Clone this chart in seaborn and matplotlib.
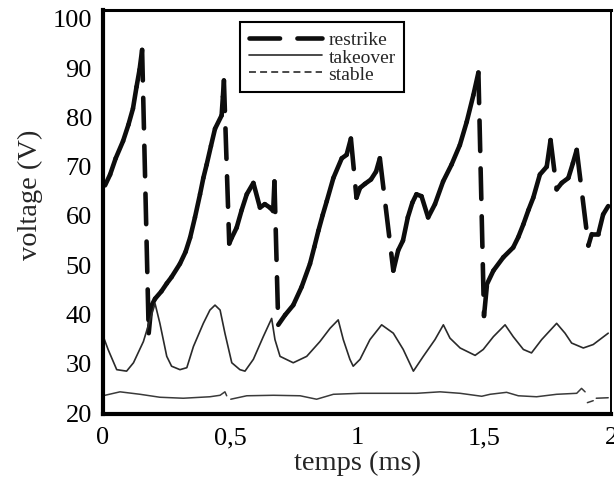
import numpy as np
import pandas as pd
import matplotlib
matplotlib.use("Agg")
import matplotlib.pyplot as plt
import seaborn as sns
from matplotlib.lines import Line2D

# ---------------- data ----------------
restrike_t = [0.008, 0.028, 0.05, 0.079, 0.10, 0.118, 0.132, 0.144, 0.154,
              0.18,
              0.19, 0.205, 0.23, 0.251, 0.27, 0.303, 0.325, 0.343, 0.362, 0.382,
              0.395, 0.408, 0.425, 0.441, 0.467, 0.472, 0.476,
              0.497,
              0.507, 0.526, 0.546, 0.566, 0.592, 0.618, 0.637, 0.657, 0.67, 0.675,
              0.69,
              0.717, 0.749, 0.782, 0.815, 0.832, 0.848, 0.865, 0.881, 0.907, 0.94,
              0.959, 0.976,
              0.998,
              1.012, 1.031, 1.055, 1.075, 1.09,
              1.143,
              1.162, 1.181, 1.2, 1.218, 1.234, 1.254, 1.28, 1.307, 1.339, 1.372,
              1.405, 1.432, 1.458, 1.478,
              1.5,
              1.512, 1.537, 1.576, 1.615, 1.635, 1.655, 1.675, 1.694, 1.72, 1.747,
              1.762,
              1.786,
              1.806, 1.832, 1.85, 1.865,
              1.911,
              1.924, 1.95, 1.969, 1.989]
restrike_v = [66.0, 68.2, 71.5, 75.0, 78.3, 81.6, 86.0, 89.5, 93.5,
              36.0,
              41.5, 43.0, 44.5, 46.1, 47.4, 50.1, 52.5, 55.4, 59.5, 64.2,
              67.5, 70.2, 74.0, 77.5, 80.2, 84.0, 87.3,
              54.2,
              55.4, 57.4, 61.0, 64.2, 66.5, 61.5, 62.2, 61.5, 60.8, 66.8,
              37.7,
              39.7, 41.7, 45.4, 50.1, 53.5, 56.8, 60.0, 62.8, 67.5, 71.5,
              72.2, 75.5,
              63.5,
              65.5, 66.3, 67.2, 68.8, 71.5,
              48.7,
              52.8, 54.8, 59.5, 62.5, 64.2, 63.8, 59.5, 62.2, 66.8, 70.2,
              74.2, 78.9, 84.3, 88.9,
              39.5,
              46.0, 48.7, 51.4, 53.4, 55.5, 58.1, 61.0, 63.5, 68.2, 69.8,
              75.2,
              65.2,
              66.5, 67.5, 70.5, 73.2,
              53.8,
              56.1, 56.1, 60.1, 61.8]

takeover_t = [0.0, 0.02, 0.054, 0.093, 0.12, 0.159, 0.185, 0.205, 0.224, 0.251,
              0.27, 0.303, 0.33, 0.356, 0.395, 0.421, 0.441, 0.461, 0.48, 0.507,
              0.539, 0.559, 0.592, 0.631, 0.664, 0.677, 0.697, 0.749, 0.802, 0.854,
              0.894, 0.926, 0.946, 0.972, 0.985, 1.012, 1.051, 1.097, 1.143, 1.182,
              1.222, 1.261, 1.307, 1.34, 1.366, 1.406, 1.465, 1.497, 1.537, 1.583,
              1.615, 1.655, 1.687, 1.727, 1.786, 1.819, 1.845, 1.891, 1.93, 1.989]
takeover_v = [35.5, 32.7, 28.6, 28.3, 30.0, 34.3, 38.7, 42.0, 38.0, 31.3,
              29.3, 28.6, 29.0, 33.3, 38.0, 40.7, 41.7, 40.7, 36.0, 30.0,
              28.6, 28.3, 30.7, 35.3, 39.0, 34.7, 31.3, 30.0, 31.3, 34.3,
              37.0, 38.7, 34.7, 30.7, 29.3, 30.7, 34.7, 37.7, 36.0, 32.7,
              28.3, 31.3, 34.7, 37.7, 35.0, 33.0, 31.5, 32.7, 35.3, 37.7,
              35.3, 32.7, 32.0, 34.7, 38.0, 36.0, 34.0, 33.0, 33.7, 36.0]

# NaN marks a break in the trace
stable_t = [0.008, 0.067, 0.146, 0.224, 0.316, 0.421, 0.461, 0.48, 0.487,
            0.495,
            0.503, 0.566, 0.671, 0.776, 0.841, 0.907, 1.012, 1.104, 1.235, 1.327,
            1.406, 1.491, 1.524, 1.589, 1.635, 1.707, 1.786, 1.865, 1.884, 1.898,
            1.903,
            1.907, 1.93,
            1.935,
            1.942, 1.989]
stable_v = [23.4, 24.1, 23.6, 23.0, 22.8, 23.1, 23.4, 24.1, 23.3,
            np.nan,
            22.6, 23.3, 23.4, 23.3, 22.6, 23.6, 23.8, 23.8, 23.8, 24.1,
            23.8, 23.2, 23.6, 24.0, 23.3, 23.1, 23.6, 23.8, 24.8, 24.1,
            np.nan,
            21.9, 22.3,
            np.nan,
            22.8, 22.9]

xtick_vals = [0, 0.5, 1, 1.5, 2]
xtick_labels = ["0", "0,5", "1", "1,5", "2"]
ytick_vals = [20, 30, 40, 50, 60, 70, 80, 90, 100]
series_names = ["restrike", "takeover", "stable"]

# ---------------- style ----------------
sns.set_style("white")
plt.rcParams["font.family"] = ["Liberation Serif", "DejaVu Serif"]
plt.rcParams["lines.scale_dashes"] = False

fig = plt.figure(figsize=(6.14, 4.81), dpi=100)
ax = fig.add_axes([103 / 614, 1 - 415 / 481, 508 / 614, 404 / 481])

# restrike: each sample-to-sample segment drawn on its own so that the dash
# pattern restarts at every vertex (short steps solid, long jumps dashed)
rows = []
for i in range(len(restrike_t) - 1):
    rows.append((i, restrike_t[i], restrike_v[i]))
    rows.append((i, restrike_t[i + 1], restrike_v[i + 1]))
restrike_df = pd.DataFrame(rows, columns=["seg", "t", "v"])
restrike_ls = (0, (22, 12.5))
sns.lineplot(data=restrike_df, x="t", y="v", units="seg", estimator=None,
             sort=False, color="#0d0d0d", linewidth=3.3, linestyle=restrike_ls,
             dash_capstyle="round", solid_capstyle="round", legend=False, ax=ax)

takeover_df = pd.DataFrame({"t": takeover_t, "v": takeover_v})
sns.lineplot(data=takeover_df, x="t", y="v", estimator=None, sort=False,
             color="#2a2a2a", linewidth=1.2, legend=False, ax=ax)

stable_df = pd.DataFrame({"t": stable_t, "v": stable_v})
stable_df["part"] = stable_df["v"].isna().cumsum()
stable_df = stable_df.dropna()
sns.lineplot(data=stable_df, x="t", y="v", units="part", estimator=None,
             sort=False, color="#3a3a3a", linewidth=1.1, legend=False, ax=ax)

# ---------------- axes ----------------
ax.set_xlim(0, 2)
ax.set_ylim(19.6, 101.6)
ax.set_xticks(xtick_vals)
ax.set_xticklabels(xtick_labels)
ax.set_yticks(ytick_vals)
ax.tick_params(axis="x", length=3, width=1, direction="out", pad=6,
               labelsize=19, colors="black")
ax.tick_params(axis="y", length=0, pad=8, labelsize=19, colors="black")
ax.set_xlabel("temps (ms)", fontsize=20.5, labelpad=1)
ax.set_ylabel("voltage (V)", fontsize=20.5)
ax.yaxis.set_label_coords(-0.118, 0.545)

for side, lw in [("left", 3.0), ("bottom", 3.0), ("top", 2.2), ("right", 1.4)]:
    ax.spines[side].set_visible(True)
    ax.spines[side].set_color("black")
    ax.spines[side].set_linewidth(lw)

handles = [
    Line2D([], [], color="#0d0d0d", linewidth=3.3, linestyle=restrike_ls,
           dash_capstyle="round"),
    Line2D([], [], color="#2a2a2a", linewidth=1.2),
    Line2D([], [], color="#2a2a2a", linewidth=1.2, linestyle=(0, (5, 3))),
]
leg = ax.legend(handles, series_names, loc="upper left",
                bbox_to_anchor=(240 / 614, 1 - 23 / 481),
                bbox_transform=fig.transFigure, borderaxespad=0,
                fontsize=14, handlelength=3.75, handletextpad=0.35,
                labelspacing=-0.02, borderpad=0.45, frameon=True,
                fancybox=False, framealpha=1)
leg.get_frame().set_edgecolor("black")
leg.get_frame().set_linewidth(1.5)

fig.savefig("out.png", dpi=100)
